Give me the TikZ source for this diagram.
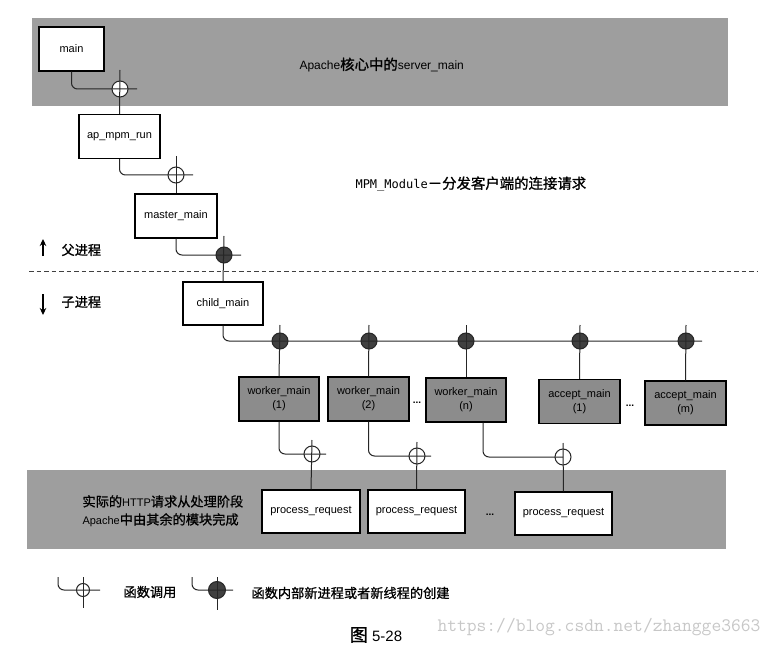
\documentclass[tikz,border=0pt]{standalone}
\usepackage{fontspec}
\setmainfont{Liberation Sans}
\newfontfamily\cjk[Scale=1.2, FakeBold=1]{Noto Sans CJK SC}
\newfontfamily\monofont{DejaVu Sans Mono}
\usetikzlibrary{arrows.meta, calc}

\begin{document}
\begin{tikzpicture}[x=1pt, y=-1pt,
    func/.style={draw, line width=1.1pt, fill=white, minimum width=81pt, minimum height=44pt,
                 inner sep=0pt, align=center, font=\fontsize{11}{14}\selectfont},
    thread/.style={func, fill=black!45},
    band/.style={fill=black!38},
    wire/.style={line width=1pt, black!85, rounded corners=6pt},
    call/.style={circle, draw=black!85, line width=1pt, fill=white, minimum size=16pt, inner sep=0pt},
    spawn/.style={call, fill=black!75},
    note/.style={anchor=west, align=left, font=\fontsize{11}{18}\selectfont}]
    \useasboundingbox (0,0) rectangle (779,647);

    % Bandes grises
    \fill[band] (32,18) rectangle (728,106);
    \fill[band] (27,470) rectangle (726,549);
    \node[note, font=\fontsize{12}{12}\selectfont] (core) at (296,65) {Apache{\cjk 核心中的}server\_main};
    \node[note] (rest) at (79,511) {{\cjk 实际的}HTTP{\cjk 请求从处理阶段}\\Apache{\cjk 中由其余的模块完成}};
    \node[anchor=west, font=\fontsize{12}{12}\selectfont] (mpm) at (352,184)
        {\monofont MPM\_Module{\cjk －分发客户端的连接请求}};

    % Processus pere / fils
    \draw[black!75, line width=0.9pt, dash pattern=on 4.5pt off 3pt] (29,271) -- (758,271);
    \coordinate (up0) at (43,256);  \coordinate (up1) at (43,239);
    \coordinate (dn0) at (43,294);  \coordinate (dn1) at (43,315);
    \draw[line width=1.1pt, -{Stealth[length=7pt, width=6.5pt]}] (up0) -- (up1);
    \draw[line width=1.1pt, -{Stealth[length=7pt, width=6.5pt]}] (dn0) -- (dn1);
    \node[note] (parent) at (58,250) {\cjk 父进程};
    \node[note] (child) at (58,302) {\cjk 子进程};

    % Fonctions
    \node[func, minimum width=65pt] (main) at (71.5,49) {main};
    \node[func] (run) at (119.5,136.5) {ap\_mpm\_run};
    \node[func, minimum width=82pt] (master) at (176,216) {master\_main};
    \node[func, minimum width=80pt, minimum height=43pt] (cmain) at (223,303.5) {child\_main};

    \node[thread, minimum width=80pt] (w1) at (279,399) {worker\_main\\(1)};
    \node[thread] (w2) at (368.5,399) {worker\_main\\(2)};
    \node[thread, minimum width=80pt] (wn) at (466,400) {worker\_main\\(n)};
    \node[thread] (a1) at (579.5,401.5) {accept\_main\\(1)};
    \node[thread] (am) at (685.5,403) {accept\_main\\(m)};
    \node[font=\bfseries] (dotsw) at (417,403) {...};
    \node[font=\bfseries] (dotsa) at (630,406) {...};

    \node[func, minimum width=98pt, minimum height=43pt] (p1) at (311,511.5) {process\_request};
    \node[func, minimum width=97pt, minimum height=43pt] (p2) at (416.5,511.5) {process\_request};
    \node[func, minimum width=97pt, minimum height=43pt] (p3) at (563.5,513.5) {process\_request};
    \node[font=\bfseries] (dotsp) at (490,515) {...};

    % Appels
    \node[call] (c1) at (120,89) {};
    \node[call] (c2) at (176,175) {};
    \node[spawn] (c3) at (224,255) {};
    \draw[wire] (main.south) |- (c1.center) -- +(17,0);
    \draw[wire] ($(c1.center)+(0,-19)$) -- (run.north);
    \draw[wire] (run.south) |- (c2.center) -- +(17,0);
    \draw[wire] ($(c2.center)+(0,-19)$) -- (master.north);
    \draw[wire] (master.south) |- (c3.center) -- +(17,0);
    \draw[wire] ($(c3.center)+(0,-19)$) -- (cmain.north);

    % Bus des threads
    \coordinate (busend) at (702,341);
    \foreach \n/\x in {b1/280, b2/369, b3/466, b4/580, b5/686}
        \node[spawn] (\n) at (\x,341) {};
    \draw[wire] (cmain.south) |- (busend);
    \foreach \n/\b in {b1/w1, b2/w2, b3/wn, b4/a1, b5/am}
        \draw[wire] ($(\n.center)+(0,-16)$) -- (\b.north);

    % Vers process_request
    \node[call] (q1) at (312,454) {};
    \node[call] (q2) at (417,456) {};
    \node[call] (q3) at (563,457) {};
    \draw[wire] (w1.south) |- (q1.center) -- +(14,0);
    \draw[wire] (w2.south) |- (q2.center) -- +(14,0);
    \draw[wire] ($(wn.south)+(17,0)$) |- (q3.center);
    \foreach \q/\p in {q1/p1, q2/p2, q3/p3}
        \draw[wire] ($(\q.center)+(0,-14)$) -- (\p.north);

    % Legende
    \node[call, minimum size=13pt] (lc) at (83,590) {};
    \node[spawn, minimum size=17pt] (ls) at (217,590) {};
    \coordinate (lc0) at (58,577);
    \coordinate (ls0) at (192,577);
    \draw[wire] (lc0) |- (lc.center) -- +(17,0);
    \draw[wire] ($(lc.center)+(0,-13)$) -- +(0,31);
    \draw[wire] (ls0) |- (ls.center) -- +(16,0);
    \draw[wire] ($(ls.center)+(0,-13)$) -- +(0,33);
    \node[note] (lct) at (120,592) {\cjk 函数调用};
    \node[note] (lst) at (248,593) {\cjk 函数内部新进程或者新线程的创建};

    \node[font=\fontsize{15}{15}\selectfont] (cap) at (376,635) {{\cjk 图} 5-28};
    \node[anchor=west, text=black!22, font=\fontsize{19}{19}\ttfamily] (wm) at (434,627) {https://blog.csdn.net/zhangge3663};
\end{tikzpicture}
\end{document}
